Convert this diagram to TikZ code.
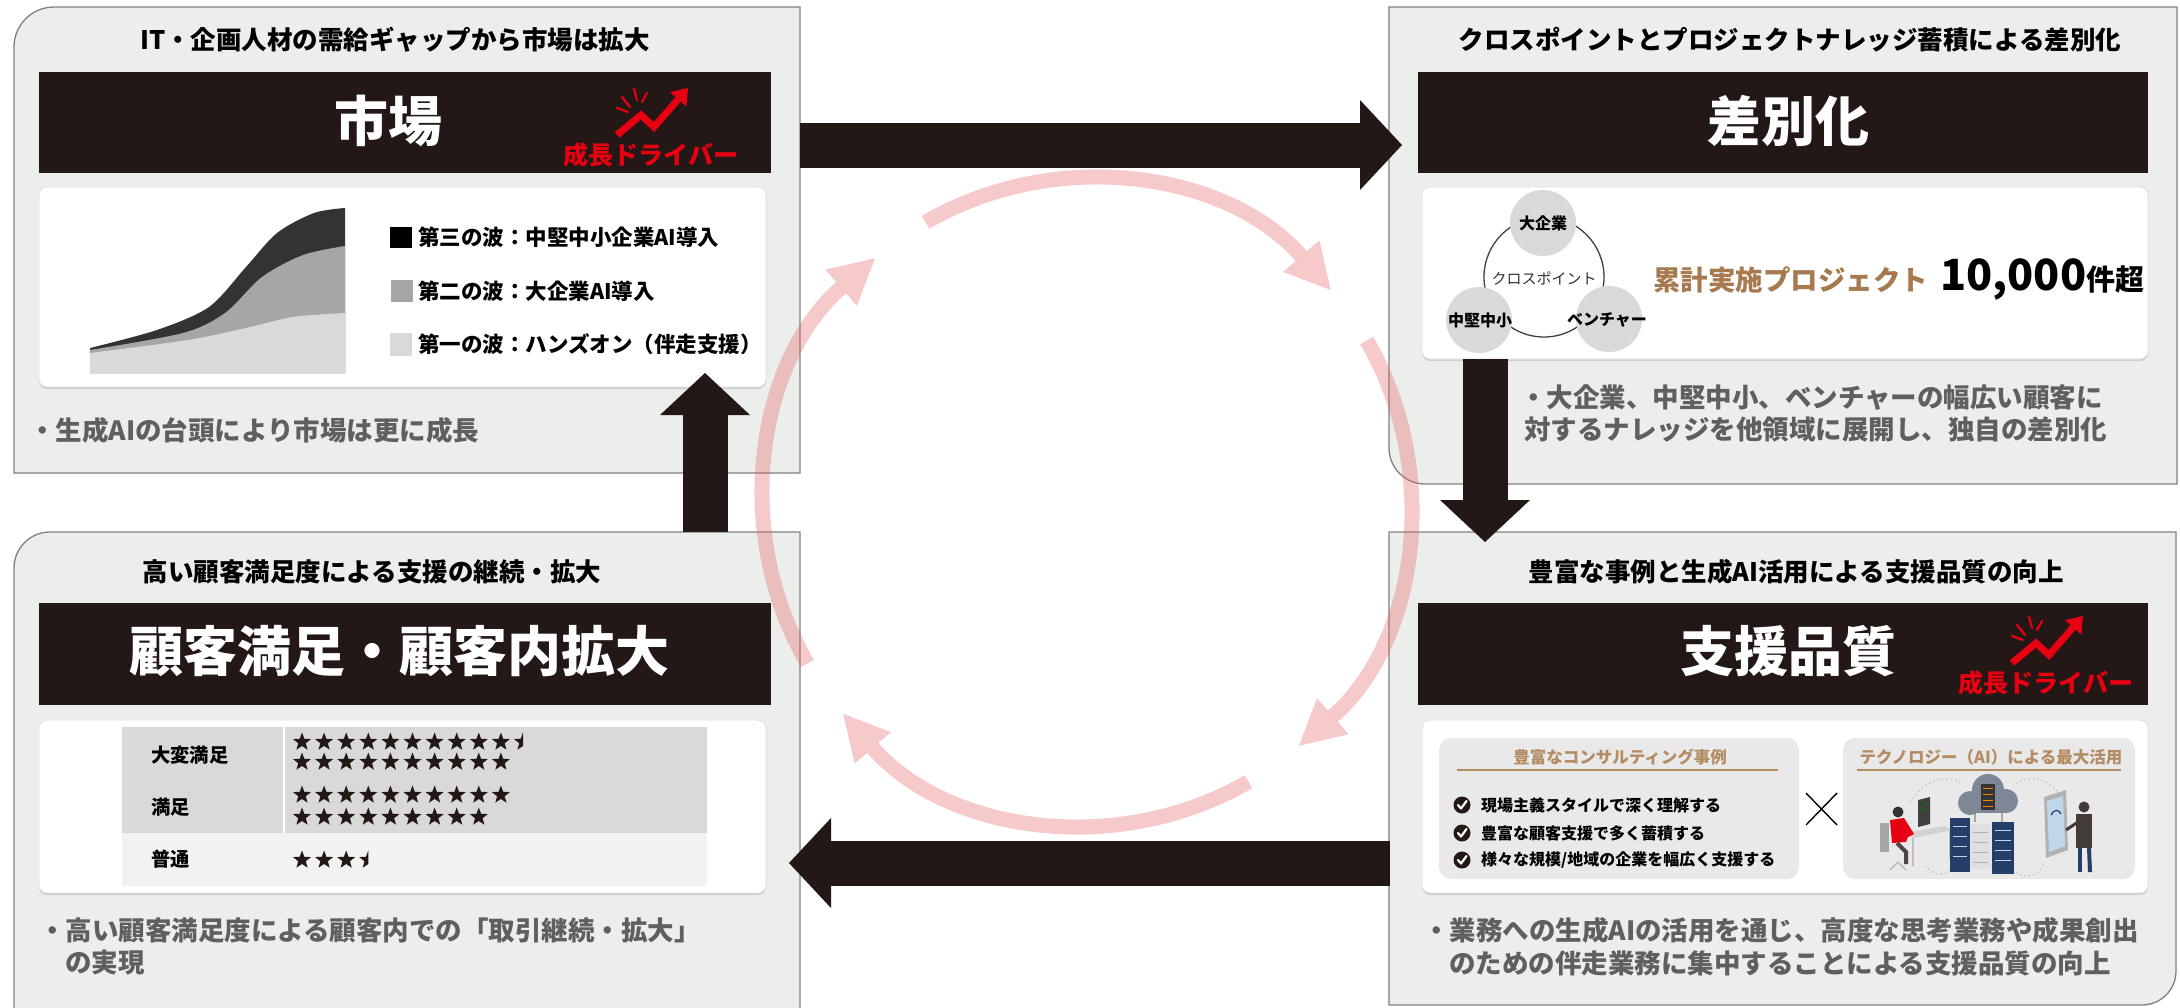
\documentclass[tikz,border=0pt]{standalone}
\usepackage{fontspec}
\setmainfont{Noto Sans CJK JP}
\usetikzlibrary{arrows.meta,shapes.geometric,shadows}

\definecolor{panelgray}{RGB}{236,238,235}
\definecolor{paneledge}{RGB}{128,128,128}
\definecolor{inkblack}{RGB}{35,24,21}
\definecolor{bulletgray}{RGB}{96,94,94}
\definecolor{projbrown}{RGB}{166,122,78}
\definecolor{subbrown}{RGB}{180,140,100}
\definecolor{driverred}{RGB}{230,0,18}
\definecolor{cyclepink}{RGB}{228,90,95}
\definecolor{chartdark}{RGB}{51,51,51}
\definecolor{chartmid}{RGB}{166,166,166}
\definecolor{chartlight}{RGB}{217,217,217}
\definecolor{venngray}{RGB}{217,217,217}
\definecolor{tablegray}{RGB}{217,217,217}
\definecolor{tablelight}{RGB}{242,242,242}
\definecolor{subgray}{RGB}{233,233,233}
\definecolor{racknavy}{RGB}{38,62,105}
\definecolor{cloudgray}{RGB}{125,135,150}
\definecolor{screenblue}{RGB}{190,215,235}

\def\starrow(#1,#2)#3#4{\foreach \k in {1,...,#3} \node[starmark] (#4-\k) at ({#1+(\k-1)*22.1},#2) {};}
\def\halfstar(#1,#2)#3{\begin{scope}\clip (#1-11,#2-12) rectangle (#1,#2+12); \node[starmark] (#3) at (#1,#2) {};\end{scope}}
\def\checkicon(#1,#2){\fill[inkblack] (#1,#2) circle (8.5); \draw[white, line width=2.2, line cap=round, line join=round] (#1-4,#2) -- (#1-1,#2+3.5) -- (#1+4.5,#2-4);}
\def\driver(#1,#2)#3{\begin{scope}[shift={(#1,#2)}]
	\draw[driverred, line width=2.2, line cap=round] (-29,-58) -- (-21,-48);
	\draw[driverred, line width=2.2, line cap=round] (-17,-66) -- (-14,-55);
	\draw[driverred, line width=2.2, line cap=round] (-4,-62) -- (-9,-53);
	\draw[driverred, line width=2.2, line cap=round] (-34,-47) -- (-23,-43);
	\draw[driverred, line width=7, -{Triangle[length=15pt, width=22pt, line width=0pt]}] (-34,-20) -- (-10,-40) -- (3,-28) -- (37,-67);
	\node[drivertext] (#3) at (0,0) {成長ドライバー};
\end{scope}}

\begin{document}
\begin{tikzpicture}[x=1pt, y=-1pt,
	panel/.style={fill=panelgray, draw=paneledge, line width=1.3},
	band/.style={fill=inkblack},
	whitebox/.style={fill=white, draw=black!12, line width=0.8, rounded corners=8, drop shadow={opacity=0.28, shadow xshift=0pt, shadow yshift=-2pt}},
	titletext/.style={inner sep=0, text=black, font=\bfseries\fontsize{25.5}{30}\selectfont},
	bandtext/.style={inner sep=0, text=white, font=\bfseries\fontsize{54}{60}\selectfont},
	bullettext/.style={inner sep=0, anchor=west, text=bulletgray, font=\bfseries\fontsize{26.5}{32}\selectfont},
	drivertext/.style={inner sep=0, text=driverred, font=\bfseries\fontsize{25}{30}\selectfont},
	legendtext/.style={inner sep=0, anchor=west, font=\bfseries\fontsize{21.5}{26}\selectfont},
	celltext/.style={inner sep=0, anchor=west, font=\bfseries\fontsize{19.3}{23}\selectfont},
	checktext/.style={inner sep=0, anchor=west, font=\bfseries\fontsize{16}{20}\selectfont},
	subhead/.style={inner sep=0, text=subbrown, font=\bfseries\fontsize{16.5}{20}\selectfont},
	venn/.style={circle, fill=venngray, minimum size=66, inner sep=0},
	vennlabel/.style={inner sep=0, font=\bfseries\fontsize{16}{19}\selectfont},
	starmark/.style={star, star points=5, star point ratio=2.4, fill=inkblack, inner sep=0, minimum size=19},
	flow/.style={draw=inkblack, line width=45, -{Triangle[length=42pt, width=90pt, line width=0pt]}},
	cyclearc/.style={draw=cyclepink, line width=15, opacity=0.32, -{Triangle[length=45pt, width=48pt, line width=0pt]}},
	]
	%%%%% START %%%%%
	
	\useasboundingbox (0,0) rectangle (2180,1007);
	\fill[white] (0,0) rectangle (2180,1007);
	
	%%%%% MARKET %%%%%
	\draw[panel] (400,7) [rounded corners=40] -- (14,7) -- (14,200) [sharp corners] -- (14,473) -- (800,473) -- (800,7) -- cycle;
	\node[titletext] (mkt-title) at (395,40) {IT・企画人材の需給ギャップから市場は拡大};
	\fill[band] (39,72) rectangle (771,173);
	\node[bandtext] (mkt) at (388,121) {市場};
	\driver(651,155){mkt-drv}
	\draw[whitebox] (39,187) rectangle (766,387);
	
	\fill[chartdark] (90,373) -- plot[smooth] coordinates {(90,348) (157,330) (209,307) (246,267) (277,233) (314,213) (345,208)} -- (345,373) -- cycle;
	\fill[chartmid] (90,373) -- plot[smooth] coordinates {(90,350) (183,333) (225,313) (262,277) (303,255) (345,246)} -- (345,373) -- cycle;
	\fill[chartlight] (90,373) -- plot[smooth] coordinates {(90,353) (188,340) (246,328) (293,317) (345,313)} -- (345,373) -- cycle;
	
	\fill[black] (390,227) rectangle (412,248);
	\fill[chartmid] (391,280) rectangle (413,302);
	\fill[chartlight] (390,333) rectangle (412,356);
	\node[legendtext] (wave3) at (418,237) {第三の波：中堅中小企業AI導入};
	\node[legendtext] (wave2) at (418,291) {第二の波：大企業AI導入};
	\node[legendtext] (wave1) at (418,344) {第一の波：ハンズオン（伴走支援）};
	
	\node[bullettext] (mkt-note) at (29,430) {・生成AIの台頭により市場は更に成長};
	
	%%%%% DIFFERENTIATION %%%%%
	\draw[panel] (1389,7) -- (1389,300) [rounded corners=36] -- (1389,484) -- (1700,484) [sharp corners] -- (2177,484) -- (2177,7) -- cycle;
	\node[titletext] (diff-title) at (1790,40) {クロスポイントとプロジェクトナレッジ蓄積による差別化};
	\fill[band] (1418,72) rectangle (2148,173);
	\node[bandtext] (diff) at (1788,121) {差別化};
	\draw[whitebox] (1422,187) rectangle (2148,359);
	
	\draw[black!75, line width=1.3] (1544,277) circle (60);
	\node[venn] (large) at (1543,223) {};
	\node[venn] (smb) at (1479,320) {};
	\node[venn] (venture) at (1609,319) {};
	\node[vennlabel] (large-lbl) at (large) {大企業};
	\node[vennlabel] (smb-lbl) at (1480,320) {中堅中小};
	\node[vennlabel] (venture-lbl) at (1607,320) {ベンチャー};
	\node[inner sep=0, text=black!80, font=\fontsize{15}{18}\selectfont] (xpoint) at (1544,278) {クロスポイント};
	
	\node[inner sep=0, anchor=base west, font=\bfseries] (projects) at (1653,290) {{\fontsize{27.5}{30}\selectfont\color{projbrown}累計実施プロジェクト}\hspace{12pt}{\fontsize{43}{46}\selectfont 10,000}{\fontsize{29}{32}\selectfont 件超}};
	
	\node[bullettext] (diff-note1) at (1520,398) {・大企業、中堅中小、ベンチャーの幅広い顧客に};
	\node[bullettext] (diff-note2) at (1524,430) {対するナレッジを他領域に展開し、独自の差別化};
	
	%%%%% SATISFACTION %%%%%
	\draw[panel] (14,1020) -- (14,700) [rounded corners=36] -- (14,532) -- (400,532) [sharp corners] -- (800,532) -- (800,1020);
	\node[titletext] (cust-title) at (372,572) {高い顧客満足度による支援の継続・拡大};
	\fill[band] (39,603) rectangle (771,705);
	\node[bandtext] (cust) at (399,651) {顧客満足・顧客内拡大};
	\draw[whitebox] (39,720) rectangle (766,893);
	
	\fill[tablegray] (122,727) rectangle (707,833);
	\fill[tablelight] (122,833) rectangle (707,886);
	\draw[white, line width=2] (284,727) -- (284,833);
	\node[celltext] (very) at (151,755) {大変満足};
	\node[celltext] (good) at (151,807) {満足};
	\node[celltext] (fair) at (151,859) {普通};
	\starrow(302,742){10}{va}
	\halfstar(523,742){va-h}
	\starrow(302,762){10}{vb}
	\starrow(302,795){10}{ga}
	\starrow(302,817){9}{gb}
	\starrow(302,860){3}{fa}
	\halfstar(368.3,860){fa-h}
	
	\node[bullettext] (cust-note1) at (39,930) {・高い顧客満足度による顧客内での「取引継続・拡大」};
	\node[bullettext] (cust-note2) at (65,963) {の実現};
	
	%%%%% QUALITY %%%%%
	\draw[panel] (1389,532) -- (2176,532) -- (2176,800) [rounded corners=34] -- (2176,1005) -- (1800,1005) [sharp corners] -- (1389,1005) -- cycle;
	\node[titletext] (qual-title) at (1796,572) {豊富な事例と生成AI活用による支援品質の向上};
	\fill[band] (1418,603) rectangle (2148,705);
	\node[bandtext] (qual) at (1788,651) {支援品質};
	\driver(2046,683){qual-drv}
	\draw[whitebox] (1422,720) rectangle (2148,893);
	
	\fill[subgray, rounded corners=12] (1439,738) rectangle (1799,879);
	\fill[subgray, rounded corners=12] (1843,738) rectangle (2135,879);
	\node[subhead] (cases) at (1620,757) {豊富なコンサルティング事例};
	\draw[subbrown, line width=2] (1457,770) -- (1778,770);
	\node[subhead] (tech) at (1991,757) {テクノロジー（AI）による最大活用};
	\draw[subbrown, line width=2] (1857,770) -- (2121,770);
	
	\checkicon(1462,805)
	\checkicon(1462,833)
	\checkicon(1462,860)
	\node[checktext] (case1) at (1481,805) {現場主義スタイルで深く理解する};
	\node[checktext] (case2) at (1481,833) {豊富な顧客支援で多く蓄積する};
	\node[checktext] (case3) at (1481,860) {様々な規模/地域の企業を幅広く支援する};
	
	\draw[black, line width=1.4] (1806,793) -- (1837,825);
	\draw[black, line width=1.4] (1806,825) -- (1837,793);
	
	% office, cloud and servers
	\draw[black!22, line width=1.5, dash pattern=on 1.5pt off 3pt] (1910,802) .. controls (1925,778) and (1948,774) .. (1962,784);
	\draw[black!22, line width=1.5, dash pattern=on 1.5pt off 3pt] (2016,784) .. controls (2030,774) and (2046,778) .. (2058,792);
	\draw[black!22, line width=1.5, dash pattern=on 1.5pt off 3pt] (1925,866) .. controls (1935,876) and (1945,876) .. (1950,870);
	\draw[black!22, line width=1.5, dash pattern=on 1.5pt off 3pt] (2016,872) .. controls (2026,880) and (2038,876) .. (2044,864);
	
	\fill[black!18] (1905,833) -- (1944,826) -- (1952,830) -- (1913,838) -- cycle;
	\draw[black!25, line width=1.5] (1913,838) -- (1913,866);
	\draw[black!25, line width=1.5] (1950,830) -- (1950,858);
	\fill[black!75] (1918,800) -- (1930,797) -- (1930,824) -- (1918,827) -- cycle;
	\draw[green!50!black, line width=0.8] (1920,806) -- (1928,804);
	\draw[green!50!black, line width=0.8] (1920,811) -- (1928,809);
	\fill[black!35] (1880,823) rectangle (1889,852);
	\fill[black!80] (1898,812) circle (5.5);
	\fill[driverred] (1890,820) -- (1904,818) -- (1914,834) -- (1908,837) -- (1906,842) -- (1892,843) -- cycle;
	\draw[inkblack!80, line width=4] (1897,843) -- (1906,852) -- (1906,864);
	\draw[black!30, line width=1.2] (1898,862) -- (1890,870);
	\draw[black!30, line width=1.2] (1898,862) -- (1906,870);
	
	\draw[black!35, line width=1.5] (1975,810) -- (1975,822);
	\draw[black!35, line width=1.5] (2002,810) -- (2002,824);
	\fill[cloudgray] (1970,803) circle (12);
	\fill[cloudgray] (1988,790) circle (16);
	\fill[cloudgray] (2006,801) circle (12);
	\fill[cloudgray] (1970,803) rectangle (2006,813);
	\fill[black!80] (1981,784) rectangle (1995,810);
	\foreach \r in {788,794,800,806} \draw[orange, line width=1] (1983,\r) -- (1993,\r);
	\fill[racknavy] (1950,818) rectangle (1970,872);
	\fill[black!12] (1970,824) rectangle (1991,869);
	\fill[racknavy] (1992,822) rectangle (2014,874);
	\foreach \r in {826,836,846,856} \draw[screenblue, line width=1] (1953,\r) -- (1967,\r);
	\foreach \r in {830,840,850,860} \draw[screenblue, line width=1] (1995,\r) -- (2011,\r);
	\foreach \r in {832,842,852,862} \draw[black!30, line width=1] (1973,\r) -- (1988,\r);
	
	\fill[black!30] (2044,797) -- (2066,790) -- (2068,850) -- (2046,858) -- cycle;
	\fill[screenblue] (2047,801) -- (2063,796) -- (2065,846) -- (2049,852) -- cycle;
	\draw[racknavy, line width=1.2] (2051,815) .. controls (2055,808) and (2059,810) .. (2061,814);
	\fill[inkblack!85] (2084,807) circle (5.5);
	\fill[inkblack!85] (2076,814) rectangle (2092,848);
	\draw[inkblack!85, line width=3] (2078,822) -- (2066,830);
	\draw[racknavy, line width=4] (2080,848) -- (2080,872);
	\draw[racknavy, line width=4] (2089,848) -- (2090,872);
	
	\node[bullettext] (qual-note1) at (1423,930) {・業務への生成AIの活用を通じ、高度な思考業務や成果創出};
	\node[bullettext] (qual-note2) at (1449,963) {のための伴走業務に集中することによる支援品質の向上};
	
	%%%%% FLOW %%%%%
	\coordinate (mkt-out) at (800,145);
	\coordinate (diff-in) at (1402,145);
	\coordinate (diff-out) at (1485,359);
	\coordinate (qual-in) at (1485,542);
	\coordinate (qual-out) at (1390,863);
	\coordinate (cust-in) at (789,863);
	\coordinate (cust-out) at (705,532);
	\coordinate (mkt-in) at (705,373);
	
	\draw[flow] (mkt-out) -- (diff-in);
	\draw[flow] (diff-out) -- (qual-in);
	\draw[flow] (qual-out) -- (cust-in);
	\draw[flow] (cust-out) -- (mkt-in);
	
	\coordinate (cyc) at (1087,502);
	\foreach \a in {0,90,180,270}
		\draw[cyclearc] (cyc) ++(\a-120:323) arc[start angle=\a-120, end angle=\a-41, radius=323];
	
	%%%%% END %%%%%
\end{tikzpicture}
\end{document}
